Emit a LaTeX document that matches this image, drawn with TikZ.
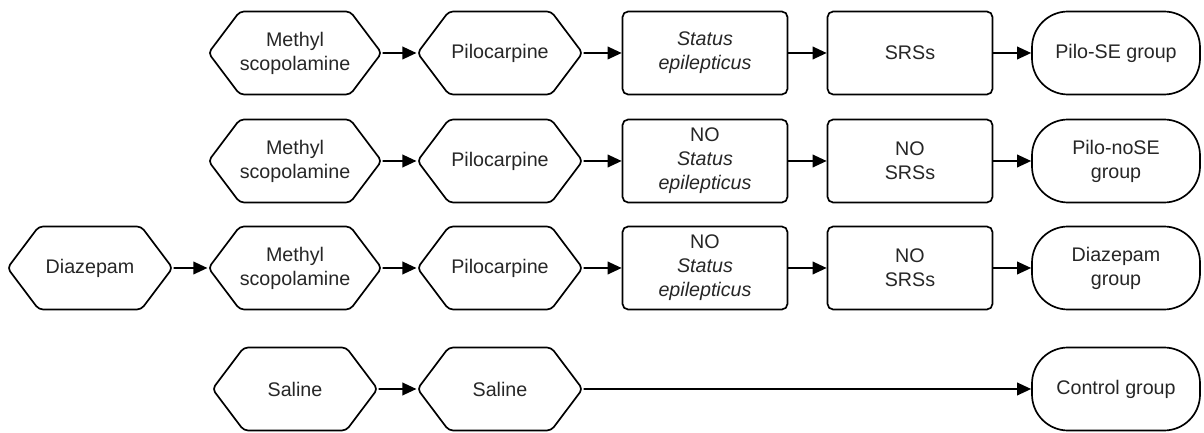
\documentclass[tikz,border=0pt]{standalone}
\usepackage{fontspec}
\setmainfont{Liberation Sans}
\usetikzlibrary{arrows.meta, positioning, shapes.symbols, shapes.misc}

\begin{document}
\begin{tikzpicture}[font=\fontsize{14}{17}\selectfont, text=black!85,
  drug/.style={draw, line width=1.2pt, signal, signal to=east and west, signal pointer angle=106,
    minimum width=4.125cm, minimum height=2.075cm, align=center, inner sep=0pt, rounded corners=3pt},
  state/.style={draw, line width=1.2pt, rectangle, rounded corners=4pt,
    minimum width=4.125cm, minimum height=2.075cm, align=center, inner sep=0pt},
  group/.style={draw, line width=1.2pt, rectangle, rounded corners=0.9cm,
    minimum width=4.2cm, minimum height=2.075cm, align=center, inner sep=0pt},
  flow/.style={line width=1.2pt, -{Triangle[length=10pt, width=9pt]}}]

\useasboundingbox (0,0) rectangle (30.1,10.825);

% Pilo-SE
\node[drug] (ms1) at (7.375,9.5) {Methyl\\scopolamine};
\node[drug] (pc1) at (12.5,9.5) {Pilocarpine};
\node[state] (se1) at (17.625,9.5) {\itshape Status\\\itshape epilepticus};
\node[state] (srs1) at (22.75,9.5) {SRSs};
\node[group] (grp1) at (27.9,9.5) {Pilo-SE group};

% Pilo-noSE
\node[drug] (ms2) at (7.375,6.8) {Methyl\\scopolamine};
\node[drug] (pc2) at (12.5,6.8) {Pilocarpine};
\node[state] (se2) at (17.625,6.8) {NO\\\itshape Status\\\itshape epilepticus};
\node[state] (srs2) at (22.75,6.8) {NO\\SRSs};
\node[group] (grp2) at (27.9,6.8) {Pilo-noSE\\group};

% Diazepam
\node[drug] (dz3) at (2.25,4.125) {Diazepam};
\node[drug] (ms3) at (7.375,4.125) {Methyl\\scopolamine};
\node[drug] (pc3) at (12.5,4.125) {Pilocarpine};
\node[state] (se3) at (17.625,4.125) {NO\\\itshape Status\\\itshape epilepticus};
\node[state] (srs3) at (22.75,4.125) {NO\\SRSs};
\node[group] (grp3) at (27.9,4.125) {Diazepam\\group};

% Control
\node[drug] (sal4) at (7.375,1.1) {Saline};
\node[drug] (sal4b) at (12.5,1.1) {Saline};
\node[group] (grp4) at (27.9,1.1) {Control group};

\draw[flow] (ms1) -- (pc1);
\draw[flow] (pc1) -- (se1);
\draw[flow] (se1) -- (srs1);
\draw[flow] (srs1) -- (grp1);

\draw[flow] (ms2) -- (pc2);
\draw[flow] (pc2) -- (se2);
\draw[flow] (se2) -- (srs2);
\draw[flow] (srs2) -- (grp2);

\draw[flow] (dz3) -- (ms3);
\draw[flow] (ms3) -- (pc3);
\draw[flow] (pc3) -- (se3);
\draw[flow] (se3) -- (srs3);
\draw[flow] (srs3) -- (grp3);

\draw[flow] (sal4) -- (sal4b);
\draw[flow] (sal4b) -- (grp4);

\end{tikzpicture}
\end{document}
